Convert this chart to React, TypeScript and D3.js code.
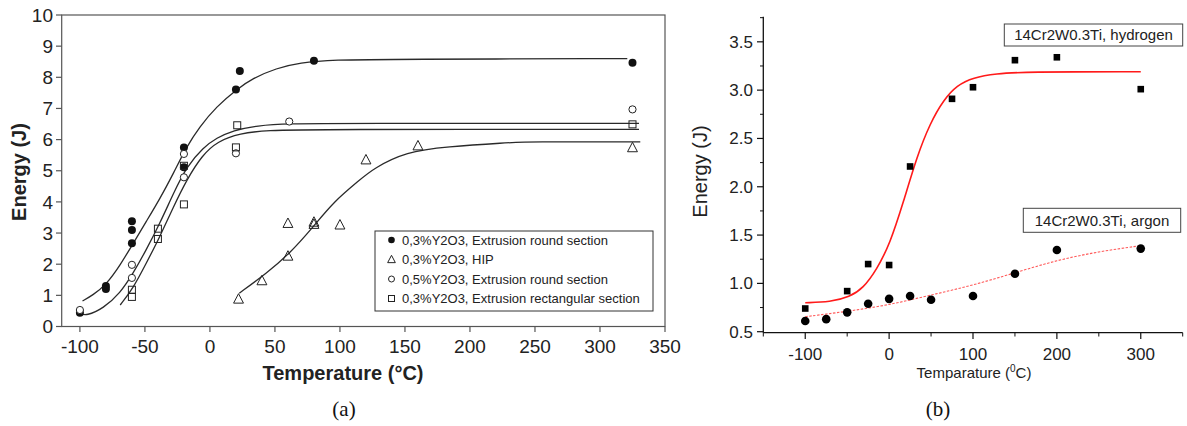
import React from "react";
import * as d3 from "d3";

// ---------- Panel (a) data ----------
const xTicksA = [-100, -50, 0, 50, 100, 150, 200, 250, 300, 350];
const yTicksA = [0, 1, 2, 3, 4, 5, 6, 7, 8, 9, 10];

const filledA: [number, number][] = [
  [-100, 0.44], [-80, 1.3], [-80, 1.2], [-60, 3.38], [-60, 3.1], [-60, 2.67],
  [-20, 5.75], [-20, 5.11], [20, 7.61], [23, 8.2], [80, 8.53], [325, 8.47],
];
const hipA: [number, number][] = [
  [22, 0.88], [40, 1.47], [60, 3.31], [60, 2.26], [80, 3.28], [80, 3.35],
  [100, 3.26], [120, 5.35], [160, 5.8], [325, 5.74],
];
const openA: [number, number][] = [
  [-100, 0.53], [-60, 1.98], [-60, 1.56], [-20, 5.54], [-20, 4.79], [20, 5.56],
  [61, 6.58], [325, 6.97],
];
const squareA: [number, number][] = [
  [-60, 1.18], [-60, 0.95], [-40, 3.14], [-40, 2.81], [-20, 3.92], [-20, 5.16],
  [21, 6.46], [20, 5.75], [325, 6.49],
];

const fitA1: [number, number][] = [
  [-98, 0.82], [-90, 1.01], [-80, 1.33], [-69, 1.97], [-59, 2.67], [-49, 3.37],
  [-38.5, 4.1], [-28, 4.92], [-18, 5.77], [-8, 6.41], [5, 7.06], [20.5, 7.61],
  [33, 7.97], [51, 8.29], [69, 8.47], [95, 8.56], [143, 8.58], [321, 8.6],
];
const fitA2: [number, number][] = [
  [-100, 0.42], [-95, 0.34], [-82, 0.58], [-69, 1.07], [-59, 1.71], [-49, 2.46],
  [-38.5, 3.31], [-28, 4.28], [-18, 5.13], [-5, 5.75], [5, 6.05], [18, 6.3],
  [36, 6.45], [61, 6.51], [100, 6.52], [330, 6.52],
];
const fitA3: [number, number][] = [
  [-69, 0.69], [-59, 1.23], [-49, 2.03], [-38.5, 2.88], [-28, 3.85], [-18, 4.7],
  [-6, 5.5], [6, 5.95], [23, 6.2], [44, 6.3], [80, 6.33], [330, 6.33],
];
const fitA4: [number, number][] = [
  [22.6, 1.07], [43.6, 1.71], [61.5, 2.35], [79.5, 3.2], [95, 4.0], [115, 4.7],
  [126, 5.08], [151, 5.61], [182, 5.77], [228, 5.9], [244, 5.93], [331, 5.93],
];

const legendA = [
  "0,3%Y2O3, Extrusion round section",
  "0,3%Y2O3, HIP",
  "0,5%Y2O3, Extrusion round section",
  "0,3%Y2O3, Extrusion rectangular section",
];

// ---------- Panel (b) data ----------
const xTicksB = [-100, 0, 100, 200, 300];
const xMinorB = [-150, -50, 50, 150, 250, 350];
const yTicksB = [0.5, 1.0, 1.5, 2.0, 2.5, 3.0, 3.5];
const yMinorB = [0.75, 1.25, 1.75, 2.25, 2.75, 3.25, 3.75];

const hydrogenB: [number, number][] = [
  [-100, 0.74], [-50, 0.92], [-25, 1.2], [0, 1.19], [25, 2.21], [75, 2.91],
  [100, 3.03], [150, 3.31], [200, 3.34], [300, 3.01],
];
const argonB: [number, number][] = [
  [-100, 0.61], [-75, 0.63], [-50, 0.7], [-25, 0.79], [0, 0.84], [25, 0.87],
  [50, 0.83], [100, 0.87], [150, 1.1], [200, 1.345], [300, 1.36],
];
const hydrogenFit: [number, number][] = [
  [-100, 0.8], [-70, 0.807], [-47, 0.86], [-31, 0.95], [-15, 1.14], [1, 1.41],
  [17, 1.84], [33, 2.31], [49, 2.66], [65, 2.9], [81, 3.05], [100, 3.13],
  [128, 3.17], [160, 3.19], [300, 3.19],
];
const argonFit: [number, number][] = [
  [-100, 0.655], [-50, 0.71], [0, 0.776], [50, 0.88], [100, 0.98], [150, 1.11],
  [200, 1.24], [250, 1.33], [300, 1.39],
];

const SANS = "'Liberation Sans', Arial, Helvetica, sans-serif";
const SERIF = "'Liberation Serif', 'Times New Roman', serif";

export default function App() {
  // Panel (a) scales
  const xA = d3.scaleLinear().domain([-114, 350]).range([61.7, 665]);
  const yA = d3.scaleLinear().domain([0, 10]).range([326.5, 15]);
  const lineA = d3
    .line<[number, number]>()
    .x((d) => xA(d[0]))
    .y((d) => yA(d[1]))
    .curve(d3.curveBasis);

  // Panel (b) scales
  const xB = d3.scaleLinear().domain([-150, 350]).range([763.3, 1182.7]);
  const yB = d3.scaleLinear().domain([0.5, 3.76]).range([331.7, 16.7]);
  const lineB = d3
    .line<[number, number]>()
    .x((d) => xB(d[0]))
    .y((d) => yB(d[1]))
    .curve(d3.curveBasis);

  const tri = (cx: number, cy: number, s: number) =>
    `M${cx},${cy - s * 0.6} L${cx + s * 0.55},${cy + s * 0.45} L${cx - s * 0.55},${cy + s * 0.45} Z`;

  const legendRows = [240, 259.5, 279, 298.5];

  return (
    <svg
      width={1187}
      height={426}
      style={{ position: "absolute", left: 0, top: 0, background: "#fff" }}
    >
      {/* ================= Panel (a) ================= */}
      <rect x={61.7} y={15} width={665 - 61.7} height={326.5 - 15} fill="none" stroke="#555" strokeWidth={1.2} />
      {yTicksA.map((t) => (
        <g key={"ya" + t}>
          <line x1={56} x2={61.7} y1={yA(t)} y2={yA(t)} stroke="#555" strokeWidth={1.2} />
          <text x={53} y={yA(t)} dy="0.35em" textAnchor="end" fontFamily={SANS} fontSize={19} fill="#222">
            {t}
          </text>
        </g>
      ))}
      {xTicksA.map((t) => (
        <g key={"xa" + t}>
          <line x1={xA(t)} x2={xA(t)} y1={326.5} y2={332} stroke="#555" strokeWidth={1.2} />
          <text x={xA(t)} y={353} textAnchor="middle" fontFamily={SANS} fontSize={19} fill="#222">
            {t}
          </text>
        </g>
      ))}
      <text
        transform={`translate(26,172) rotate(-90)`}
        textAnchor="middle"
        fontFamily={SANS}
        fontWeight="bold"
        fontSize={20}
        fill="#222"
      >
        Energy (J)
      </text>
      <text x={343} y={380} textAnchor="middle" fontFamily={SANS} fontWeight="bold" fontSize={20} fill="#222">
        Temperature (°C)
      </text>

      {/* fits */}
      {[fitA1, fitA2, fitA3, fitA4].map((f, i) => (
        <path key={"fa" + i} d={lineA(f) || ""} fill="none" stroke="#2a2a2a" strokeWidth={1.3} />
      ))}

      {/* markers */}
      {filledA.map((d, i) => (
        <circle key={"fd" + i} cx={xA(d[0])} cy={yA(d[1])} r={4} fill="#111" />
      ))}
      {openA.map((d, i) => (
        <circle key={"od" + i} cx={xA(d[0])} cy={yA(d[1])} r={3.6} fill="#fff" stroke="#222" strokeWidth={1} />
      ))}
      {squareA.map((d, i) => (
        <rect key={"sd" + i} x={xA(d[0]) - 3.5} y={yA(d[1]) - 3.5} width={7} height={7} fill="none" stroke="#222" strokeWidth={1} />
      ))}
      {hipA.map((d, i) => (
        <path key={"hd" + i} d={tri(xA(d[0]), yA(d[1]), 9)} fill="none" stroke="#222" strokeWidth={1} />
      ))}

      {/* legend */}
      <rect x={375} y={231} width={653 - 375} height={311 - 231} fill="#fff" stroke="#333" strokeWidth={1} />
      <circle cx={391.5} cy={legendRows[0]} r={3.3} fill="#111" />
      <path d={tri(391.5, legendRows[1], 7)} fill="none" stroke="#222" strokeWidth={1} />
      <circle cx={391.5} cy={legendRows[2]} r={3} fill="none" stroke="#222" strokeWidth={1} />
      <rect x={388.5} y={legendRows[3] - 3} width={6} height={6} fill="none" stroke="#222" strokeWidth={1} />
      {legendA.map((t, i) => (
        <text key={"lg" + i} x={402} y={legendRows[i]} dy="0.35em" fontFamily={SANS} fontSize={13} fill="#222">
          {t}
        </text>
      ))}

      <text x={344} y={416} textAnchor="middle" fontFamily={SERIF} fontSize={21} fill="#111">
        (a)
      </text>

      {/* ================= Panel (b) ================= */}
      <line x1={763.3} x2={763.3} y1={16.7} y2={332.7} stroke="#111" strokeWidth={1.3} />
      <line x1={763.3} x2={1182.7} y1={332.7} y2={332.7} stroke="#111" strokeWidth={1.3} />
      {yTicksB.map((t) => (
        <g key={"yb" + t}>
          <line x1={757} x2={763.3} y1={yB(t)} y2={yB(t)} stroke="#111" strokeWidth={1.2} />
          <text x={753} y={yB(t)} dy="0.35em" textAnchor="end" fontFamily={SANS} fontSize={17} fill="#222">
            {t.toFixed(1)}
          </text>
        </g>
      ))}
      {yMinorB.map((t) => (
        <line key={"ybm" + t} x1={760} x2={763.3} y1={yB(t)} y2={yB(t)} stroke="#111" strokeWidth={1} />
      ))}
      {xTicksB.map((t) => (
        <g key={"xb" + t}>
          <line x1={xB(t)} x2={xB(t)} y1={332.7} y2={339} stroke="#111" strokeWidth={1.2} />
          <text x={xB(t)} y={360} textAnchor="middle" fontFamily={SANS} fontSize={17} fill="#222">
            {t}
          </text>
        </g>
      ))}
      {xMinorB.map((t) => (
        <line key={"xbm" + t} x1={xB(t)} x2={xB(t)} y1={332.7} y2={336.5} stroke="#111" strokeWidth={1} />
      ))}
      <text
        transform={`translate(707,171.5) rotate(-90)`}
        textAnchor="middle"
        fontFamily={SANS}
        fontSize={20}
        fill="#222"
      >
        Energy (J)
      </text>
      <text x={974} y={378} textAnchor="middle" fontFamily={SANS} fontSize={15} fill="#222">
        Temparature (<tspan dy={-6} fontSize={10}>0</tspan>
        <tspan dy={6}>C)</tspan>
      </text>

      <path d={lineB(argonFit) || ""} fill="none" stroke="#ff5a5a" strokeWidth={1.1} strokeDasharray="2.5,1.5" />
      <path d={lineB(hydrogenFit) || ""} fill="none" stroke="#ff1a1a" strokeWidth={1.6} />

      {hydrogenB.map((d, i) => (
        <rect key={"hb" + i} x={xB(d[0]) - 3.3} y={yB(d[1]) - 3.3} width={6.6} height={6.6} fill="#000" />
      ))}
      {argonB.map((d, i) => (
        <circle key={"ab" + i} cx={xB(d[0])} cy={yB(d[1])} r={4.3} fill="#000" />
      ))}

      <rect x={1004.3} y={24} width={1182.7 - 1004.3} height={22} fill="#fff" stroke="#444" strokeWidth={1} />
      <text x={1093.5} y={35} dy="0.35em" textAnchor="middle" fontFamily={SANS} fontSize={15} fill="#222">
        14Cr2W0.3Ti, hydrogen
      </text>
      <rect x={1023.3} y={208.3} width={1180.7 - 1023.3} height={24} fill="#fff" stroke="#444" strokeWidth={1} />
      <text x={1102} y={220.3} dy="0.35em" textAnchor="middle" fontFamily={SANS} fontSize={15} fill="#222">
        14Cr2W0.3Ti, argon
      </text>

      <text x={938} y={416} textAnchor="middle" fontFamily={SERIF} fontSize={21} fill="#111">
        (b)
      </text>
    </svg>
  );
}
